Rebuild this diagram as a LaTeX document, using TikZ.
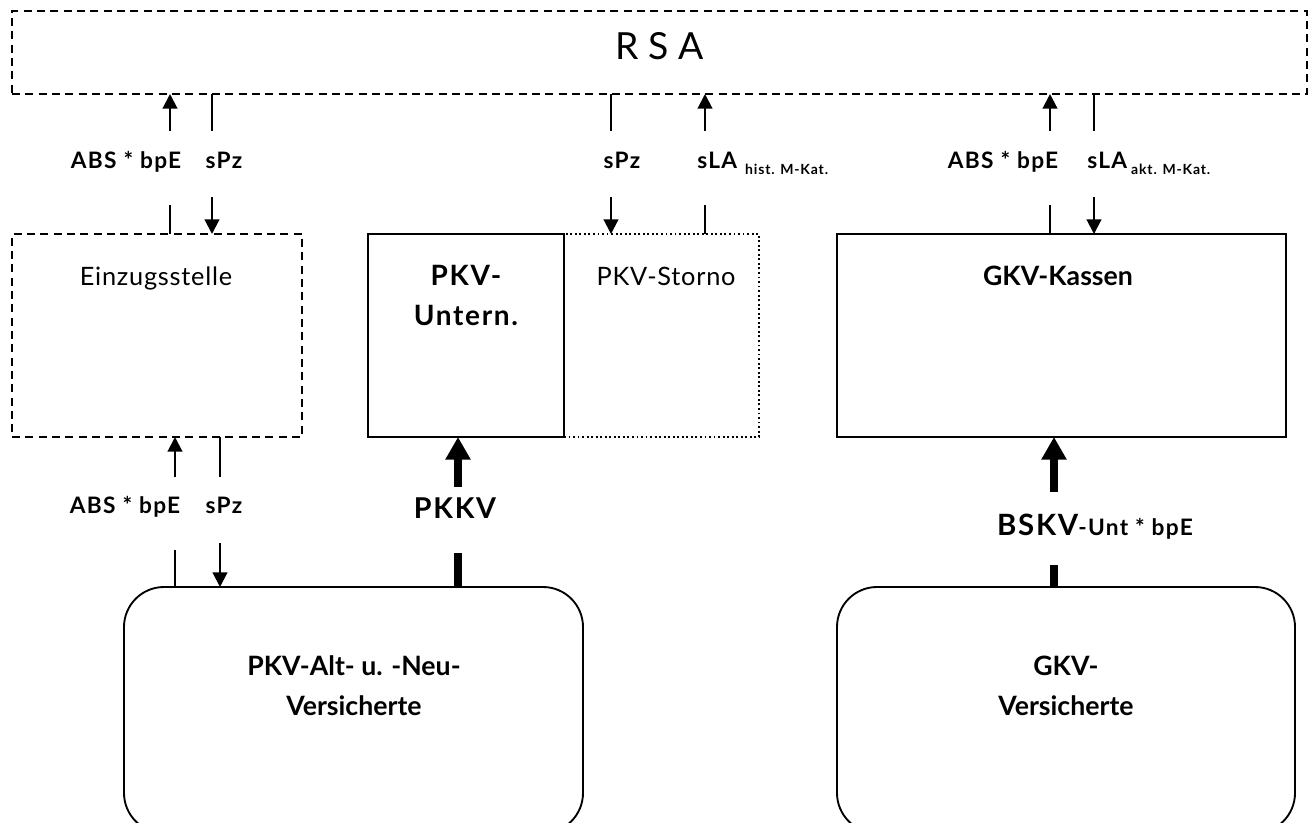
\documentclass[tikz,border=0pt]{standalone}
\usepackage{fontspec}
\setmainfont{Lato}
\newfontfamily\lblfont{Lato}[LetterSpace=6]
\newfontfamily\regfont{Lato}[LetterSpace=3]
\newcommand\subfnt{\lblfont\bfseries\fontsize{10.5}{12}\selectfont}
\usetikzlibrary{arrows.meta,calc}
\begin{document}
\begin{tikzpicture}[x=0.75pt,y=-0.75pt,
  box/.style={draw, line width=1.4pt, inner sep=0pt, outer sep=0pt},
  wpx/.style={minimum width=#1*0.75pt},
  hpx/.style={minimum height=#1*0.75pt},
  ln/.style={line width=1.6pt},
  arr/.style={line width=1.6pt, -{Triangle[length=11pt,width=11pt]}},
  tln/.style={line width=5.5pt},
  tarr/.style={line width=5.5pt, -{Triangle[length=17pt,width=18pt]}},
  lbl/.style={font=\lblfont\bfseries\fontsize{17}{20}\selectfont, anchor=base, inner sep=0pt},
  big/.style={font=\bfseries\fontsize{20}{30}\selectfont, align=center, inner sep=0pt},
  reg/.style={font=\regfont\fontsize{19}{22}\selectfont, inner sep=0pt},
]
\clip (0,0) rectangle (1314,822);
\useasboundingbox (0,0) rectangle (1314,822);

% boxes
\node[box, dashed, dash pattern=on 6pt off 4pt, line width=1.1pt, wpx=1295, hpx=83] (rsa) at (659.5,52.5) {};
\node[box, dashed, dash pattern=on 6pt off 4pt, line width=1.1pt, wpx=290, hpx=203] (einz) at (157,335.5) {};
\node[box, wpx=196, hpx=203] (pkvu) at (466,335.5) {};
\node[box, dotted, line width=1.4pt, wpx=195, hpx=203] (storno) at (661.5,335.5) {};
\draw[line width=1.4pt] (pkvu.north east) -- (pkvu.south east);
\node[box, wpx=449, hpx=203] (gkvk) at (1061.5,335.5) {};
\node[box, rounded corners=30pt, wpx=459, hpx=246] (pkvv) at (353.5,710) {};
\node[box, rounded corners=30pt, wpx=458, hpx=246] (gkvv) at (1066,710) {};

% box texts
\node[font=\fontsize{28}{30}\selectfont, anchor=base, inner sep=0pt] (rsat) at (660,59) {R S A};
\node[reg] (einzt) at (156,278) {Einzugsstelle};
\node[big, font=\lblfont\bfseries\fontsize{21}{30}\selectfont] (pkvut) at (466,295) {PKV-\\Untern.};
\node[reg] (stornot) at (666,276) {PKV-Storno};
\node[big] (gkvkt) at (1058,276) {GKV-Kassen};
\node[big] (pkvvt) at (354,686) {PKV-Alt- u. -Neu-\\Versicherte};
\node[big] (gkvvt) at (1066,686) {GKV-\\Versicherte};

% labels upper row
\node[lbl] (l1) at (126,168) {ABS * bpE};
\node[lbl] (l2) at (224,168) {sPz};
\node[lbl] (l3) at (622,168) {sPz};
\node[lbl, anchor=base west] (l4) at (697,168) {sLA\hspace{6pt}\raisebox{-5pt}{\subfnt hist. M-Kat.}};
\node[lbl] (l5) at (1003,168) {ABS * bpE};
\node[lbl, anchor=base west] (l6) at (1087,168) {sLA\hspace{3pt}\raisebox{-5pt}{\subfnt akt. M-Kat.}};
% labels lower row
\node[lbl] (l7) at (125,513) {ABS * bpE};
\node[lbl] (l8) at (224,513) {sPz};
\node[lbl, font=\lblfont\bfseries\fontsize{21.5}{24}\selectfont] (l9) at (455,518) {PKKV};
\node[lbl, anchor=base] (l10) at (1095,535) {{\fontsize{22}{24}\selectfont BSKV}-Unt * bpE};

% connector coordinates
\coordinate (c1) at (170,131);  \coordinate (c1b) at (170,205);
\coordinate (c2) at (212,131);  \coordinate (c2b) at (212,197);
\coordinate (c3) at (611,131);  \coordinate (c3b) at (611,197);
\coordinate (c4) at (705,131);  \coordinate (c4b) at (705,205);
\coordinate (c5) at (1050,131); \coordinate (c5b) at (1050,205);
\coordinate (c6) at (1094,131); \coordinate (c6b) at (1094,197);
\coordinate (d1) at (175,477);  \coordinate (d1b) at (175,550);
\coordinate (d2) at (220,477);  \coordinate (d2b) at (220,543);
\coordinate (t1) at (458,487);  \coordinate (t1b) at (458,553);
\coordinate (t2) at (1054,492); \coordinate (t2b) at (1054,565);

% upper connectors
\draw[arr] (c1) -- (c1 |- rsa.south);
\draw[ln] (c1b) -- (c1b |- einz.north);
\draw[ln] (c2 |- rsa.south) -- (c2);
\draw[arr] (c2b) -- (c2b |- einz.north);
\draw[ln] (c3 |- rsa.south) -- (c3);
\draw[arr] (c3b) -- (c3b |- storno.north);
\draw[arr] (c4) -- (c4 |- rsa.south);
\draw[ln] (c4b) -- (c4b |- storno.north);
\draw[arr] (c5) -- (c5 |- rsa.south);
\draw[ln] (c5b) -- (c5b |- gkvk.north);
\draw[ln] (c6 |- rsa.south) -- (c6);
\draw[arr] (c6b) -- (c6b |- gkvk.north);
% lower connectors
\draw[arr] (d1) -- (d1 |- einz.south);
\draw[ln] (d1b) -- (d1b |- pkvv.north);
\draw[ln] (d2 |- einz.south) -- (d2);
\draw[arr] (d2b) -- (d2b |- pkvv.north);
\draw[tarr] (t1) -- (t1 |- pkvu.south);
\draw[tln] (t1b) -- (t1b |- pkvv.north);
\draw[tarr] (t2) -- (t2 |- gkvk.south);
\draw[tln] (t2b) -- (t2b |- gkvv.north);
\end{tikzpicture}
\end{document}
